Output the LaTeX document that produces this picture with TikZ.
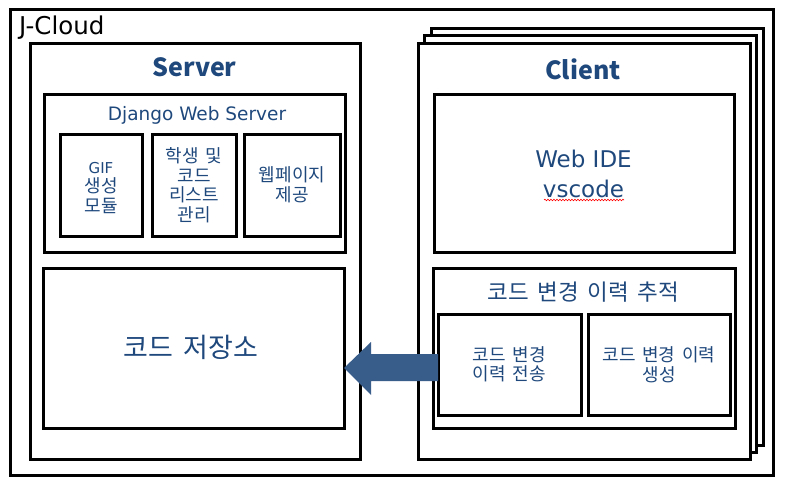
\documentclass[tikz,border=0pt]{standalone}
\usepackage{fontspec}
\setmainfont{Noto Sans CJK KR}[WordSpace=1.7]
\newfontfamily\lat{DejaVu Sans}
\usetikzlibrary{calc,decorations.pathmorphing}
\definecolor{txt}{HTML}{1F497D}
\definecolor{arr}{HTML}{385D8A}
\begin{document}
\begin{tikzpicture}[x=1pt,y=-1pt,
  box/.style={draw=black,line width=3pt,fill=white,inner sep=0pt,outer sep=0pt,text=txt,align=center},
  lbl/.style={text=txt,align=center,inner sep=0pt},
  small/.style={font=\fontsize{18}{19.5}\selectfont}]
\useasboundingbox[fill=white] (0,0) rectangle (787,487);
% J-Cloud
\node[box,minimum width=763,minimum height=465] (jcloud) at (391.5,242.5) {};
\node[anchor=base west,inner sep=0pt,font=\lat\fontsize{24.5}{28}\selectfont] (jlbl) at (19,35) {J-Cloud};
% Server
\node[box,minimum width=330,minimum height=415] (server) at (195,251.5) {};
\node[lbl,font=\fontsize{25}{30}\selectfont\bfseries] (serverlbl) at (194.5,67) {Server};
\node[box,minimum width=301,minimum height=158] (django) at (194.5,173) {};
\node[lbl,anchor=base,font=\lat\fontsize{18.5}{22}\selectfont] (djangolbl) at (197,120) {Django Web Server};
\node[box,minimum width=82,minimum height=102] (gif) at (101,185) {};
\node[lbl,small] (giflbl) at (101,188) {{\lat\fontsize{15}{19.5}\selectfont GIF}\\생성\\모듈};
\node[box,small,minimum width=84,minimum height=102] (list) at (194,185) {학생 및\\코드\\리스트\\관리};
\node[box,small,minimum width=96,minimum height=102] (web) at (292,185) {웹페이지\\제공};
\node[box,minimum width=301,minimum height=160] (repo) at (193.5,348) {};
\node[lbl,font=\fontsize{27}{32}\selectfont] (repolbl) at (191,347) {코드 저장소};
% Client stack
\node[box,minimum width=332,minimum height=416] (client3) at (597,237) {};
\node[box,minimum width=332,minimum height=416] (client2) at (590,244) {};
\node[box,minimum width=332,minimum height=415] (client) at (584,251.5) {};
\node[lbl,font=\fontsize{25}{30}\selectfont\bfseries] (clientlbl) at (583,69) {Client};
\node[box,minimum width=300,minimum height=158] (ide) at (584,173) {};
\node[lbl,anchor=base,font=\lat\fontsize{23}{30}\selectfont] (idelbl) at (583.5,197) {Web IDE\\vscode};
\node[box,minimum width=302,minimum height=160] (track) at (584,348) {};
\node[lbl,font=\fontsize{22.5}{26}\selectfont] (tracklbl) at (583.5,292) {코드 변경 이력 추적};
\node[box,small,minimum width=143,minimum height=101] (send) at (509.5,364.5) {코드 변경\\이력 전송};
\node[box,small,minimum width=142,minimum height=101] (gen) at (659,364.5) {코드 변경 이력\\생성};
% spell-check underline
\draw[red,line width=0.6pt,decorate,decoration={snake,amplitude=0.8pt,segment length=3pt}]
  ($(ide)+(-40,27)$) -- ($(ide)+(40,27)$);
% arrow
\coordinate (tip) at ([yshift=-20pt]repo.east);
\coordinate (sendp) at (tip -| send.west);
\fill[arr] (tip) -- ++(27,-26) -- ++(0,12) -- ($(sendp)+(0,-14)$) -- ($(sendp)+(0,13)$)
  -- ($(tip)+(27,13)$) -- ($(tip)+(27,27)$) -- cycle;
\end{tikzpicture}
\end{document}
